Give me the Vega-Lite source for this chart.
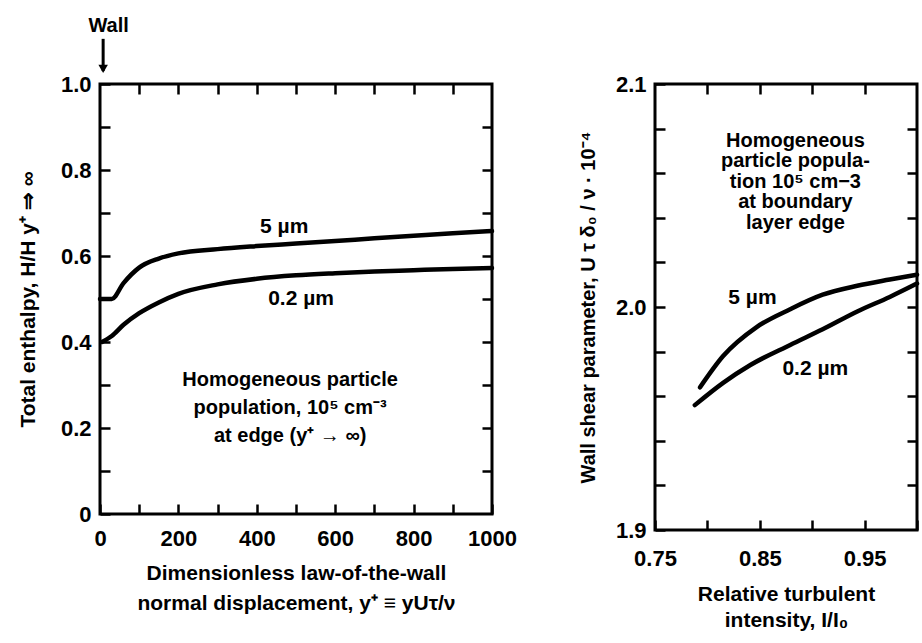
{
  "$schema": "https://vega.github.io/schema/vega-lite/v6.json",
  "background": "white",
  "padding": {"left": 15, "top": 14, "right": 2, "bottom": 2},
  "spacing": 163,
  "bounds": "flush",
  "config": {
    "view": {"stroke": "black", "strokeWidth": 3},
    "axis": {
      "grid": false, "domain": false,
      "tickColor": "black", "tickWidth": 2.5, "tickSize": 10, "offset": -10,
      "labelFont": "Liberation Sans", "labelFontWeight": "bold", "labelFontSize": 22, "labelColor": "black",
      "labelOverlap": false, "labelFlush": false,
      "titleFont": "Liberation Sans", "titleFontWeight": "bold", "titleColor": "black"
    },
    "text": {"font": "Liberation Sans", "fontWeight": "bold", "color": "black"}
  },
  "datasets": {
    "enthalpy": [
      {"size": "5 µm", "yplus": 0, "h": 0.5},
      {"size": "5 µm", "yplus": 30, "h": 0.5},
      {"size": "5 µm", "yplus": 60, "h": 0.537},
      {"size": "5 µm", "yplus": 100, "h": 0.573},
      {"size": "5 µm", "yplus": 150, "h": 0.594},
      {"size": "5 µm", "yplus": 200, "h": 0.606},
      {"size": "5 µm", "yplus": 300, "h": 0.616},
      {"size": "5 µm", "yplus": 400, "h": 0.623},
      {"size": "5 µm", "yplus": 500, "h": 0.629},
      {"size": "5 µm", "yplus": 600, "h": 0.635},
      {"size": "5 µm", "yplus": 700, "h": 0.641},
      {"size": "5 µm", "yplus": 800, "h": 0.647},
      {"size": "5 µm", "yplus": 900, "h": 0.653},
      {"size": "5 µm", "yplus": 1000, "h": 0.658},
      {"size": "0.2 µm", "yplus": 5, "h": 0.4},
      {"size": "0.2 µm", "yplus": 30, "h": 0.414},
      {"size": "0.2 µm", "yplus": 60, "h": 0.44},
      {"size": "0.2 µm", "yplus": 100, "h": 0.467},
      {"size": "0.2 µm", "yplus": 150, "h": 0.492},
      {"size": "0.2 µm", "yplus": 200, "h": 0.512},
      {"size": "0.2 µm", "yplus": 300, "h": 0.534},
      {"size": "0.2 µm", "yplus": 400, "h": 0.547},
      {"size": "0.2 µm", "yplus": 500, "h": 0.555},
      {"size": "0.2 µm", "yplus": 600, "h": 0.56},
      {"size": "0.2 µm", "yplus": 700, "h": 0.564},
      {"size": "0.2 µm", "yplus": 800, "h": 0.567},
      {"size": "0.2 µm", "yplus": 900, "h": 0.57},
      {"size": "0.2 µm", "yplus": 1000, "h": 0.572}
    ],
    "enthalpy_labels": [
      {"yplus": 470, "h": 0.667, "text": "5 µm"},
      {"yplus": 513, "h": 0.5, "text": "0.2 µm"}
    ],
    "enthalpy_note": [
      {"yplus": 485, "h": 0.311, "text": "Homogeneous particle\npopulation, 10⁵ cm⁻³\nat edge (y⁺ → ∞)"}
    ],
    "wall_label": [{"yplus": 22, "h": 1.135, "text": "Wall"}],
    "wall_arrow": [{"yplus": 8, "h": 1.105, "h2": 1.03}],
    "wall_head": [{"yplus": 8, "h": 1.035}],
    "shear": [
      {"size": "5 µm", "intensity": 0.793, "param": 1.964},
      {"size": "5 µm", "intensity": 0.815, "param": 1.978},
      {"size": "5 µm", "intensity": 0.847, "param": 1.991},
      {"size": "5 µm", "intensity": 0.879, "param": 1.999},
      {"size": "5 µm", "intensity": 0.91, "param": 2.0055},
      {"size": "5 µm", "intensity": 0.943, "param": 2.0095},
      {"size": "5 µm", "intensity": 0.974, "param": 2.0123},
      {"size": "5 µm", "intensity": 1.0, "param": 2.0145},
      {"size": "0.2 µm", "intensity": 0.788, "param": 1.956},
      {"size": "0.2 µm", "intensity": 0.815, "param": 1.966},
      {"size": "0.2 µm", "intensity": 0.841, "param": 1.974},
      {"size": "0.2 µm", "intensity": 0.879, "param": 1.983},
      {"size": "0.2 µm", "intensity": 0.91, "param": 1.99},
      {"size": "0.2 µm", "intensity": 0.943, "param": 1.998},
      {"size": "0.2 µm", "intensity": 0.974, "param": 2.0045},
      {"size": "0.2 µm", "intensity": 1.0, "param": 2.0105}
    ],
    "shear_labels": [
      {"intensity": 0.843, "param": 2.004, "text": "5 µm"},
      {"intensity": 0.903, "param": 1.972, "text": "0.2 µm"}
    ],
    "shear_note": [
      {"intensity": 0.884, "param": 2.0745, "text": "Homogeneous\nparticle popula-\ntion 10⁵ cm−3\nat boundary\nlayer edge"}
    ]
  },
  "hconcat": [
    {
      "width": 392,
      "height": 430,
      "resolve": {"axis": {"x": "independent", "y": "independent"}},
      "layer": [
        {
          "data": {"name": "enthalpy"},
          "mark": {"type": "line", "color": "black", "strokeWidth": 4.5, "interpolate": "monotone", "strokeCap": "round"},
          "encoding": {
            "x": {
              "field": "yplus", "type": "quantitative",
              "scale": {"domain": [0, 1000], "nice": false, "zero": false},
              "axis": {
                "orient": "bottom",
                "values": [0, 100, 200, 300, 400, 500, 600, 700, 800, 900, 1000],
                "format": "d",
                "labelExpr": "datum.value % 200 === 0 ? datum.label : ''",
                "labelPadding": 14,
                "title": ["Dimensionless law-of-the-wall", "normal displacement, y⁺ ≡ yUτ/ν"],
                "titleFontSize": 21, "titleLineHeight": 30, "titlePadding": 13
              }
            },
            "y": {
              "field": "h", "type": "quantitative",
              "scale": {"domain": [0, 1], "nice": false},
              "axis": {
                "orient": "left",
                "values": [0, 0.1, 0.2, 0.3, 0.4, 0.5, 0.6, 0.7, 0.8, 0.9, 1.0],
                "format": ".1f",
                "labelExpr": "datum.value === 0 ? '0' : (round(datum.value * 10) % 2 === 0 ? datum.label : '')",
                "labelPadding": 9,
                "title": "Total enthalpy,  H/H  y⁺  ⇒  ∞",
                "titleFontSize": 21, "titlePadding": 22
              }
            },
            "detail": {"field": "size", "type": "nominal"}
          }
        },
        {
          "data": {"name": "enthalpy_labels"},
          "mark": {"type": "text", "fontSize": 21},
          "encoding": {
            "x": {
              "field": "yplus", "type": "quantitative",
              "axis": {"orient": "top", "values": [100, 200, 300, 400, 500, 600, 700, 800, 900], "labels": false, "title": null}
            },
            "y": {
              "field": "h", "type": "quantitative",
              "axis": {"orient": "right", "values": [0.1, 0.2, 0.3, 0.4, 0.5, 0.6, 0.7, 0.8, 0.9], "labels": false, "title": null}
            },
            "text": {"field": "text", "type": "nominal"}
          }
        },
        {
          "data": {"name": "enthalpy_note"},
          "mark": {"type": "text", "fontSize": 20, "lineBreak": "\n", "lineHeight": 28, "baseline": "middle"},
          "encoding": {
            "x": {"field": "yplus", "type": "quantitative", "axis": null},
            "y": {"field": "h", "type": "quantitative", "axis": null},
            "text": {"field": "text", "type": "nominal"}
          }
        },
        {
          "data": {"name": "wall_label"},
          "mark": {"type": "text", "fontSize": 20},
          "encoding": {
            "x": {"field": "yplus", "type": "quantitative", "axis": null},
            "y": {"field": "h", "type": "quantitative", "axis": null},
            "text": {"field": "text", "type": "nominal"}
          }
        },
        {
          "data": {"name": "wall_arrow"},
          "mark": {"type": "rule", "color": "black", "strokeWidth": 3},
          "encoding": {
            "x": {"field": "yplus", "type": "quantitative", "axis": null},
            "y": {"field": "h", "type": "quantitative", "axis": null},
            "y2": {"field": "h2"}
          }
        },
        {
          "data": {"name": "wall_head"},
          "mark": {"type": "point", "shape": "triangle-down", "filled": true, "color": "black", "size": 90, "opacity": 1},
          "encoding": {
            "x": {"field": "yplus", "type": "quantitative", "axis": null},
            "y": {"field": "h", "type": "quantitative", "axis": null}
          }
        }
      ]
    },
    {
      "width": 262,
      "height": 446,
      "resolve": {"axis": {"x": "independent", "y": "independent"}},
      "layer": [
        {
          "data": {"name": "shear"},
          "mark": {"type": "line", "color": "black", "strokeWidth": 4.5, "interpolate": "monotone", "strokeCap": "round"},
          "encoding": {
            "x": {
              "field": "intensity", "type": "quantitative",
              "scale": {"domain": [0.75, 1.0], "nice": false, "zero": false},
              "axis": {
                "orient": "bottom",
                "values": [0.75, 0.8, 0.85, 0.9, 0.95, 1.0],
                "format": ".2f",
                "labelExpr": "(abs(datum.value - 0.75) < 0.001 || abs(datum.value - 0.85) < 0.001 || abs(datum.value - 0.95) < 0.001) ? datum.label : ''",
                "labelPadding": 18,
                "title": ["Relative turbulent", "intensity, I/I₀"],
                "titleFontSize": 21, "titleLineHeight": 26, "titlePadding": 14
              }
            },
            "y": {
              "field": "param", "type": "quantitative",
              "scale": {"domain": [1.9, 2.1], "nice": false, "zero": false},
              "axis": {
                "orient": "left",
                "values": [1.9, 1.92, 1.94, 1.96, 1.98, 2.0, 2.02, 2.04, 2.06, 2.08, 2.1],
                "format": ".1f",
                "labelExpr": "(abs(datum.value - 1.9) < 0.001 || abs(datum.value - 2.0) < 0.001 || abs(datum.value - 2.1) < 0.001) ? datum.label : ''",
                "labelPadding": 9,
                "title": "Wall shear parameter,   U τ δ₀ / ν   ·   10⁻⁴",
                "titleFontSize": 20, "titlePadding": 17
              }
            },
            "detail": {"field": "size", "type": "nominal"}
          }
        },
        {
          "data": {"name": "shear_labels"},
          "mark": {"type": "text", "fontSize": 21},
          "encoding": {
            "x": {
              "field": "intensity", "type": "quantitative",
              "axis": {"orient": "top", "values": [0.8, 0.85, 0.9, 0.95], "labels": false, "title": null}
            },
            "y": {
              "field": "param", "type": "quantitative",
              "axis": {"orient": "right", "values": [1.92, 1.94, 1.96, 1.98, 2.0, 2.02, 2.04, 2.06, 2.08], "labels": false, "title": null}
            },
            "text": {"field": "text", "type": "nominal"}
          }
        },
        {
          "data": {"name": "shear_note"},
          "mark": {"type": "text", "fontSize": 20, "lineBreak": "\n", "lineHeight": 20.5, "baseline": "middle"},
          "encoding": {
            "x": {"field": "intensity", "type": "quantitative", "axis": null},
            "y": {"field": "param", "type": "quantitative", "axis": null},
            "text": {"field": "text", "type": "nominal"}
          }
        }
      ]
    }
  ]
}
